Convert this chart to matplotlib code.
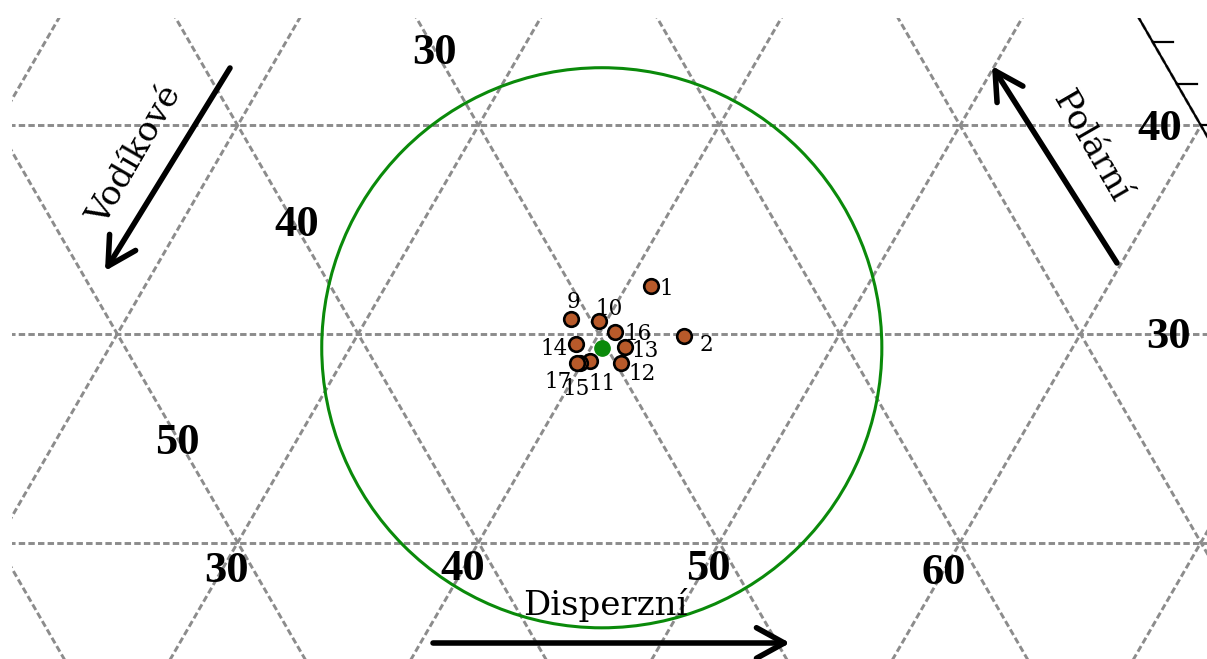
import numpy as np
import matplotlib
matplotlib.use("Agg")
import matplotlib.pyplot as plt
from matplotlib.patches import Circle

# ---------------- data (ternary fractions, %) ----------------
point_labels = ["1", "2", "9", "10", "11", "12", "13", "14", "15", "16", "17"]
disperzni = [41.0, 43.6, 38.5, 39.7, 40.3, 41.6, 41.4, 39.3, 39.9, 40.6, 39.8]
polarni = [32.3, 29.9, 30.7, 30.6, 28.7, 28.6, 29.4, 29.5, 28.6, 30.1, 28.6]
vodikove = [100 - d - p for d, p in zip(disperzni, polarni)]

center_d, center_p = 40.45, 29.34   # green centre point
sphere_radius = 11.63               # radius of the green circle

grid_values = list(range(0, 101, 10))
edge_tick_values = list(range(0, 101, 2))

d_tick_labels = ["30", "40", "50", "60"]
h_tick_labels = ["30", "40", "50"]
p_tick_labels = ["40", "30"]

# ---------------- helpers ----------------
SQ = np.sqrt(3) / 2


def tern(d, p):
    """(dispersion, polar) -> cartesian (bottom-left vertex = 100 % hydrogen)."""
    d = np.asarray(d, float)
    p = np.asarray(p, float)
    return d + p / 2, p * SQ


S = 24.08  # pixels per cartesian unit in the reference


def pix(px, py):
    """layout helper: reference pixel -> data coordinates"""
    return 35 + (px - 117.3) / S, 30 * SQ + (334 - py) / S


W, H = 1207, 659
fig = plt.figure(figsize=(W / 100, H / 100), dpi=100)
ax = fig.add_axes([12 / W, 0, 1195 / W, 641 / H])
x0, y0 = pix(12, 659)
x1, y1 = pix(1207, 18)
ax.set_xlim(x0, x1)
ax.set_ylim(y0, y1)
ax.axis("off")

grid_kw = dict(color="#8c8c8c", lw=2.1, linestyle=(0, (2.2, 1.1)), zorder=1)
for v in grid_values:
    # constant polar
    xs, ys = tern([0, 100 - v], [v, v])
    ax.plot(xs, ys, **grid_kw)
    # constant dispersion
    xs, ys = tern([v, v], [0, 100 - v])
    ax.plot(xs, ys, **grid_kw)
    # constant hydrogen
    xs, ys = tern([100 - v, 0], [0, 100 - v])
    ax.plot(xs, ys, **grid_kw)

# right edge of triangle (hydrogen = 0) with ticks
xs, ys = tern([100, 0], [0, 100])
ax.plot(xs, ys, color="black", lw=1.6, zorder=2)
for p in edge_tick_values:
    ex, ey = tern(100 - p, p)
    ax.plot([ex, ex + 0.85], [ey, ey], color="black", lw=1.6, zorder=2)

# circle
cx, cy = tern(center_d, center_p)
ax.add_patch(Circle((float(cx), float(cy)), sphere_radius, fill=False,
                    ec="#0a8a0a", lw=2.2, zorder=3))

# points
px_, py_ = tern(disperzni, polarni)
ax.plot(px_, py_, "o", ms=10.5, mfc="#b85a2a", mec="black", mew=1.9,
        ls="none", zorder=5)
ax.plot([cx], [cy], "o", ms=11, mfc="#0a8a0a", mec="#0a8a0a", zorder=6)

label_offsets = {"1": (15.8, 0), "2": (21.7, -6.5), "9": (1.8, 19.5),
                 "10": (10.2, 14.5), "16": (24, 0.5), "14": (-21.7, -2.5),
                 "13": (19.3, -1.5), "12": (22, -8.5), "11": (11.5, -20.5),
                 "15": (-3.7, -23.3), "17": (-19, -16.5)}
for lab, x, y in zip(point_labels, px_, py_):
    ax.annotate(lab, (x, y), xytext=label_offsets[lab],
                textcoords="offset pixels", ha="center", va="center_baseline",
                fontsize=15.5, family="DejaVu Serif", zorder=7)

# tick numbers
num_kw = dict(fontsize=32, fontweight="bold", family="Liberation Serif",
              ha="center", va="center_baseline", zorder=4)
for lab, pos in zip(d_tick_labels, [(226, 567), (463, 565), (708, 565), (944, 569)]):
    ax.text(*pix(*pos), lab, **num_kw)
for lab, pos in zip(h_tick_labels, [(435, 49), (297, 220), (177, 438)]):
    ax.text(*pix(*pos), lab, **num_kw)
for lab, pos in zip(p_tick_labels, [(1160, 125), (1168, 333)]):
    ax.text(*pix(*pos), lab, **num_kw)

# axis arrows
arrow_kw = dict(arrowstyle="->,head_length=1.0,head_width=0.55",
                lw=4, color="black", mutation_scale=20,
                shrinkA=0, shrinkB=0)
for (tx, ty), (hx, hy) in [((230, 68), (105, 271)),
                           ((1117, 263), (992, 66)),
                           ((433, 643), (790, 643))]:
    ax.annotate("", xy=pix(hx, hy), xytext=pix(tx, ty),
                arrowprops=arrow_kw, zorder=4)

title_kw = dict(fontsize=24.5, family="DejaVu Serif", ha="center",
                va="center", rotation_mode="anchor", zorder=4)
ax.text(*pix(135, 155), "Vodíkové", rotation=60, **title_kw)
ax.text(*pix(1091, 146), "Polární", rotation=-60, **title_kw)
ax.text(*pix(605, 605), "Disperzní", rotation=0, **title_kw)

fig.savefig("out.png", dpi=100)
